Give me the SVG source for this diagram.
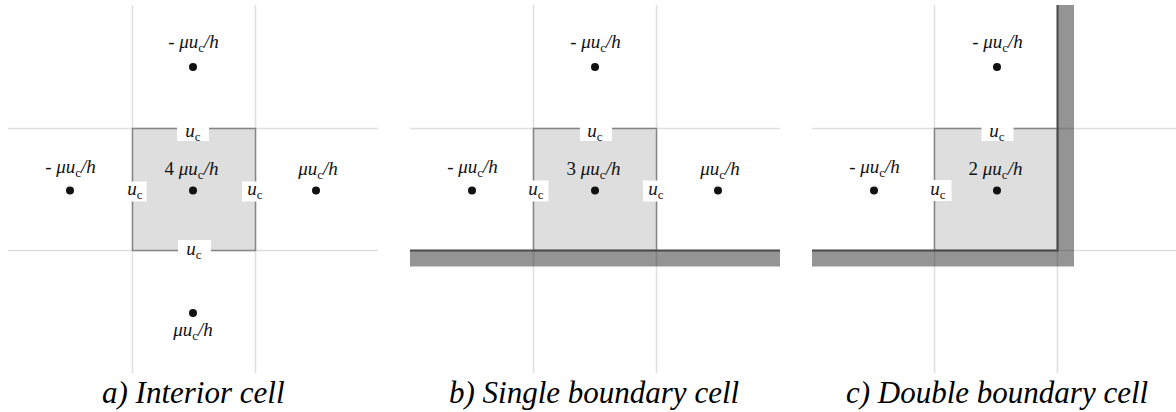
<svg xmlns="http://www.w3.org/2000/svg" width="1176" height="412" viewBox="0 0 1176 412">
<style>
.grid{stroke:#e0e0e0;stroke-width:1.5;fill:none}
.cell{fill:#dedede;stroke:#858585;stroke-width:1.5}
.wall{fill:#000;fill-opacity:0.42}
.wline{stroke:#4a4a4a;stroke-width:2;fill:none}
.dot{fill:#111}
.box{fill:#fff}
.lbl{font-family:'Liberation Serif','Times New Roman',serif;font-style:italic;font-size:19px;fill:#111;text-anchor:middle}
.up{font-style:normal}
.sub{font-size:13px;font-style:normal}
.cap{font-family:'Liberation Serif','Times New Roman',serif;font-style:italic;font-size:31px;fill:#000}
</style>
<g id="connectors">
  <path class="grid" d="M132.5,5V373M255.5,5V373M8,128.5H378M8,250.5H378"/>
  <path class="grid" d="M533.5,5V373M656.5,5V373M410,128.5H780"/>
  <path class="grid" d="M934.5,5V373M1057.5,5V373M812,128.5H1176M812,250.5H1176"/>
</g>

<g id="panel-a">
  <rect class="cell" x="132.5" y="128.5" width="123" height="122"/>
  <rect class="box" x="177" y="125" width="32" height="16"/>
  <rect class="box" x="178" y="240" width="33" height="20"/>
  <rect class="box" x="123.5" y="181.5" width="23" height="20"/>
  <rect class="box" x="242" y="181.5" width="25" height="20"/>
  <text class="lbl" x="193" y="137">u<tspan class="sub" dy="3.5">c</tspan></text>
  <text class="lbl" x="194" y="255">u<tspan class="sub" dy="3.5">c</tspan></text>
  <text class="lbl" x="135" y="195">u<tspan class="sub" dy="3.5">c</tspan></text>
  <text class="lbl" x="255" y="195">u<tspan class="sub" dy="3.5">c</tspan></text>
  <circle class="dot" cx="193" cy="67" r="4"/>
  <circle class="dot" cx="70" cy="190.5" r="4"/>
  <circle class="dot" cx="193" cy="190.5" r="4"/>
  <circle class="dot" cx="316" cy="190.5" r="4"/>
  <circle class="dot" cx="193" cy="313" r="4"/>
  <text class="lbl" x="193.5" y="48"><tspan class="up">- </tspan>μu<tspan class="sub" dy="3.5">c</tspan><tspan dy="-3.5">/h</tspan></text>
  <text class="lbl" x="70.5" y="173"><tspan class="up">- </tspan>μu<tspan class="sub" dy="3.5">c</tspan><tspan dy="-3.5">/h</tspan></text>
  <text class="lbl" x="191.5" y="175"><tspan class="up">4 </tspan>μu<tspan class="sub" dy="3.5">c</tspan><tspan dy="-3.5">/h</tspan></text>
  <text class="lbl" x="318" y="175">μu<tspan class="sub" dy="3.5">c</tspan><tspan dy="-3.5">/h</tspan></text>
  <text class="lbl" x="193" y="336">μu<tspan class="sub" dy="3.5">c</tspan><tspan dy="-3.5">/h</tspan></text>
  <text class="cap" x="102" y="403">a) Interior cell</text>
</g>

<g id="panel-b">
  <rect class="cell" x="533.5" y="128.5" width="123" height="122"/>
  <rect class="wall" x="410" y="250.5" width="370" height="16"/>
  <path class="wline" d="M410,250.5H780"/>
  <rect class="box" x="580" y="125" width="32" height="16"/>
  <rect class="box" x="523.5" y="180.5" width="25" height="21"/>
  <rect class="box" x="643" y="180.5" width="26" height="21"/>
  <text class="lbl" x="595" y="137">u<tspan class="sub" dy="3.5">c</tspan></text>
  <text class="lbl" x="536" y="195">u<tspan class="sub" dy="3.5">c</tspan></text>
  <text class="lbl" x="656" y="195">u<tspan class="sub" dy="3.5">c</tspan></text>
  <circle class="dot" cx="595" cy="67" r="4"/>
  <circle class="dot" cx="472" cy="190.5" r="4"/>
  <circle class="dot" cx="595" cy="190.5" r="4"/>
  <circle class="dot" cx="718" cy="190.5" r="4"/>
  <text class="lbl" x="595.5" y="48"><tspan class="up">- </tspan>μu<tspan class="sub" dy="3.5">c</tspan><tspan dy="-3.5">/h</tspan></text>
  <text class="lbl" x="472.5" y="173"><tspan class="up">- </tspan>μu<tspan class="sub" dy="3.5">c</tspan><tspan dy="-3.5">/h</tspan></text>
  <text class="lbl" x="593.5" y="175"><tspan class="up">3 </tspan>μu<tspan class="sub" dy="3.5">c</tspan><tspan dy="-3.5">/h</tspan></text>
  <text class="lbl" x="720" y="175">μu<tspan class="sub" dy="3.5">c</tspan><tspan dy="-3.5">/h</tspan></text>
  <text class="cap" x="449" y="403">b) Single boundary cell</text>
</g>

<g id="panel-c">
  <rect class="cell" x="934.5" y="128.5" width="123" height="122"/>
  <path class="wall" d="M812,250.5H1057.5V5H1074V266.5H812Z"/>
  <path class="wline" d="M812,250.5H1057.5V5"/>
  <rect class="box" x="981.5" y="125" width="32" height="16"/>
  <rect class="box" x="926.5" y="180" width="25" height="21"/>
  <text class="lbl" x="997" y="137">u<tspan class="sub" dy="3.5">c</tspan></text>
  <text class="lbl" x="938" y="195">u<tspan class="sub" dy="3.5">c</tspan></text>
  <circle class="dot" cx="997" cy="67" r="4"/>
  <circle class="dot" cx="874" cy="190.5" r="4"/>
  <circle class="dot" cx="997" cy="190.5" r="4"/>
  <text class="lbl" x="997.5" y="48"><tspan class="up">- </tspan>μu<tspan class="sub" dy="3.5">c</tspan><tspan dy="-3.5">/h</tspan></text>
  <text class="lbl" x="874.5" y="173"><tspan class="up">- </tspan>μu<tspan class="sub" dy="3.5">c</tspan><tspan dy="-3.5">/h</tspan></text>
  <text class="lbl" x="995.5" y="175"><tspan class="up">2 </tspan>μu<tspan class="sub" dy="3.5">c</tspan><tspan dy="-3.5">/h</tspan></text>
  <text class="cap" x="846" y="403">c) Double boundary cell</text>
</g>
</svg>
